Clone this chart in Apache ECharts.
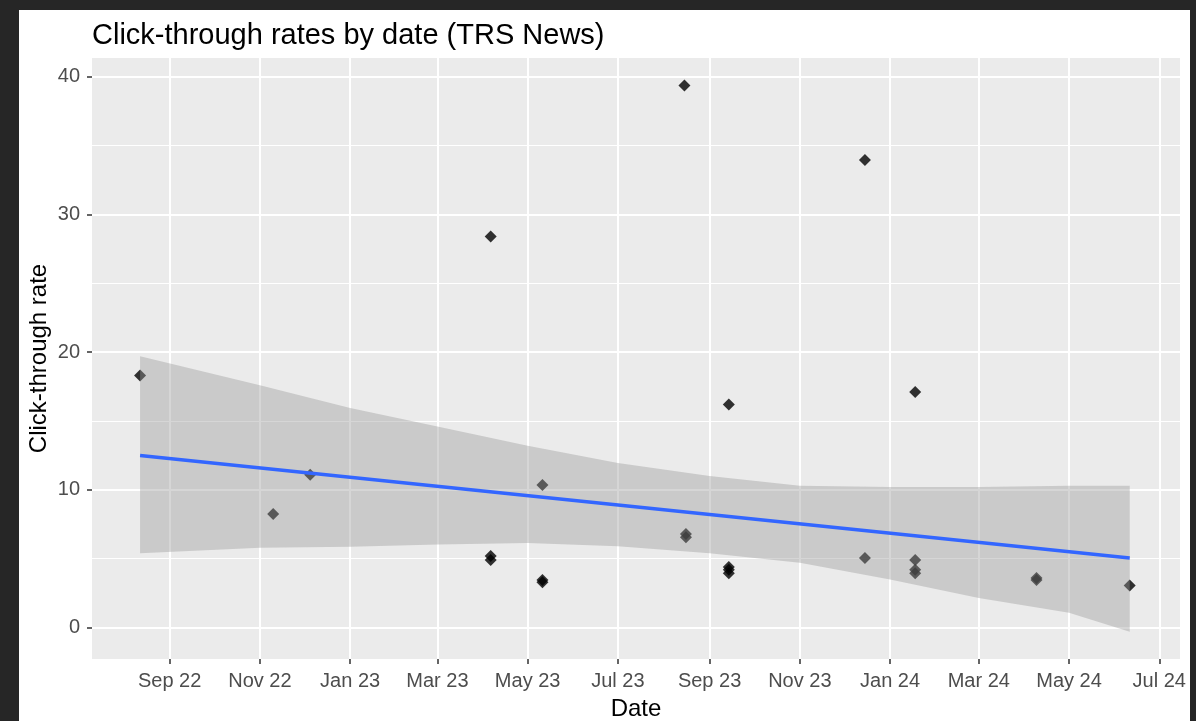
<!DOCTYPE html>
<html>
<head>
<meta charset="utf-8">
<script src="https://cdn.jsdelivr.net/npm/echarts@6/dist/echarts.min.js"></script>
<style>
  html, body { margin: 0; padding: 0; background: #262626; width: 1196px; height: 721px; overflow: hidden; }
  #chart { position: absolute; left: 19px; top: 10px; width: 1171px; height: 711px; background: #fff; }
</style>
</head>
<body>
<div id="chart"></div>
<script>
// points (date, click-through rate)
const pointDates = ['2022-08-12', '2022-11-10', '2022-12-05', '2023-04-06', '2023-04-06', '2023-04-06',
  '2023-05-11', '2023-05-11', '2023-05-11', '2023-08-15', '2023-08-16', '2023-08-16',
  '2023-09-14', '2023-09-14', '2023-09-14', '2023-09-14', '2023-12-15', '2023-12-15',
  '2024-01-18', '2024-01-18', '2024-01-18', '2024-01-18', '2024-04-09', '2024-04-09', '2024-06-11']
const pointRates = [18.3, 8.25, 11.1, 28.4, 5.2, 4.9,
  10.35, 3.45, 3.3, 39.35, 6.8, 6.55,
  16.2, 4.4, 4.2, 3.95, 33.95, 5.05,
  17.1, 4.9, 4.2, 3.95, 3.6, 3.45, 3.05]

// linear fit + confidence band
const fitDates = ['2022-08-12', '2024-06-11']
const fitRates = [12.5, 5.05]
const bandDates = ['2022-08-12', '2022-11-01', '2023-01-01', '2023-03-01', '2023-05-01', '2023-07-01',
  '2023-09-01', '2023-11-01', '2024-01-01', '2024-03-01', '2024-05-01', '2024-06-11']
const bandUpper = [19.7, 17.6, 15.95, 14.6, 13.2, 11.95, 11.0, 10.3, 10.2, 10.2, 10.3, 10.3]
const bandLower = [5.4, 5.8, 5.86, 6.03, 6.15, 5.9, 5.4, 4.7, 3.5, 2.15, 1.07, -0.3]

// axis ticks
const xTickDates = ['2022-09-01', '2022-11-01', '2023-01-01', '2023-03-01', '2023-05-01', '2023-07-01',
  '2023-09-01', '2023-11-01', '2024-01-01', '2024-03-01', '2024-05-01', '2024-07-01']
const xTickLabels = ['Sep 22', 'Nov 22', 'Jan 23', 'Mar 23', 'May 23', 'Jul 23',
  'Sep 23', 'Nov 23', 'Jan 24', 'Mar 24', 'May 24', 'Jul 24']
const yTicks = [0, 10, 20, 30, 40]
const yMinorTicks = [5, 15, 25, 35]

const toTime = s => {
  const [y, m, d] = s.split('-').map(Number)
  return new Date(y, m - 1, d).getTime()
}
const xTickTimes = xTickDates.map(toTime)
const font = 'Liberation Sans, Arial, sans-serif'

const chart = echarts.init(document.getElementById('chart'))
const option = {
  animation: false,
  title: {
    text: 'Click-through rates by date (TRS News)',
    left: 68,
    top: 6,
    textStyle: { color: '#000', fontSize: 29, fontWeight: 'normal', fontFamily: font }
  },
  grid: {
    left: 73,
    top: 48,
    width: 1088,
    height: 601,
    show: true,
    backgroundColor: '#EBEBEB',
    borderWidth: 0,
    outerBoundsMode: 'none'
  },
  xAxis: {
    type: 'value',
    min: new Date(2022, 6, 10, 12).getTime(),
    max: new Date(2024, 6, 15).getTime(),
    name: 'Date',
    nameLocation: 'middle',
    nameGap: 38,
    nameMoveOverlap: false,
    nameTextStyle: { color: '#000', fontSize: 24, fontFamily: font },
    axisLine: { show: false, onZero: false },
    axisTick: { show: true, length: 5, customValues: xTickTimes, lineStyle: { color: '#333', width: 1.5 } },
    axisLabel: {
      customValues: xTickTimes,
      margin: 12,
      color: '#4D4D4D',
      fontSize: 20,
      fontFamily: font,
      hideOverlap: false,
      formatter: v => {
        const i = xTickTimes.indexOf(v)
        return i >= 0 ? xTickLabels[i] : ''
      }
    },
    splitLine: { show: true, lineStyle: { color: '#fff', width: 2 } }
  },
  yAxis: [
    {
      type: 'value',
      min: -2.28,
      max: 41.35,
      name: 'Click-through rate',
      nameLocation: 'middle',
      nameGap: 41,
      nameMoveOverlap: false,
      nameRotate: 90,
      nameTextStyle: { color: '#000', fontSize: 24, fontFamily: font },
      axisLine: { show: false, onZero: false },
      axisTick: { show: true, length: 5, customValues: yTicks, lineStyle: { color: '#333', width: 1.5 } },
      axisLabel: { customValues: yTicks, margin: 12, color: '#4D4D4D', fontSize: 20, fontFamily: font },
      splitLine: { show: true, lineStyle: { color: '#fff', width: 2 } }
    },
    {
      type: 'value',
      min: -2.28,
      max: 41.35,
      position: 'left',
      axisLine: { show: false, onZero: false },
      axisTick: { show: false, customValues: yMinorTicks },
      axisLabel: { show: false, customValues: yMinorTicks },
      splitLine: { show: true, lineStyle: { color: '#fff', width: 1 } }
    }
  ],
  series: [
    {
      type: 'scatter',
      symbol: 'diamond',
      symbolSize: 12,
      itemStyle: { color: '#000' },
      z: 2,
      data: pointDates.map((d, i) => [toTime(d), pointRates[i]])
    },
    {
      type: 'custom',
      z: 3,
      silent: true,
      data: bandDates.map((d, i) => [toTime(d), bandUpper[i], bandLower[i]]),
      renderItem: (params, api) => {
        if (params.dataIndex !== 0) return null
        const upper = bandDates.map((d, i) => api.coord([toTime(d), bandUpper[i]]))
        const lower = bandDates.map((d, i) => api.coord([toTime(d), bandLower[i]])).reverse()
        return {
          type: 'polygon',
          shape: { points: upper.concat(lower) },
          style: { fill: 'rgba(153,153,153,0.4)' }
        }
      }
    },
    {
      type: 'line',
      z: 4,
      symbol: 'none',
      lineStyle: { color: '#3366FF', width: 3.5 },
      data: fitDates.map((d, i) => [toTime(d), fitRates[i]])
    }
  ]
}
chart.setOption(option)
</script>
</body>
</html>
